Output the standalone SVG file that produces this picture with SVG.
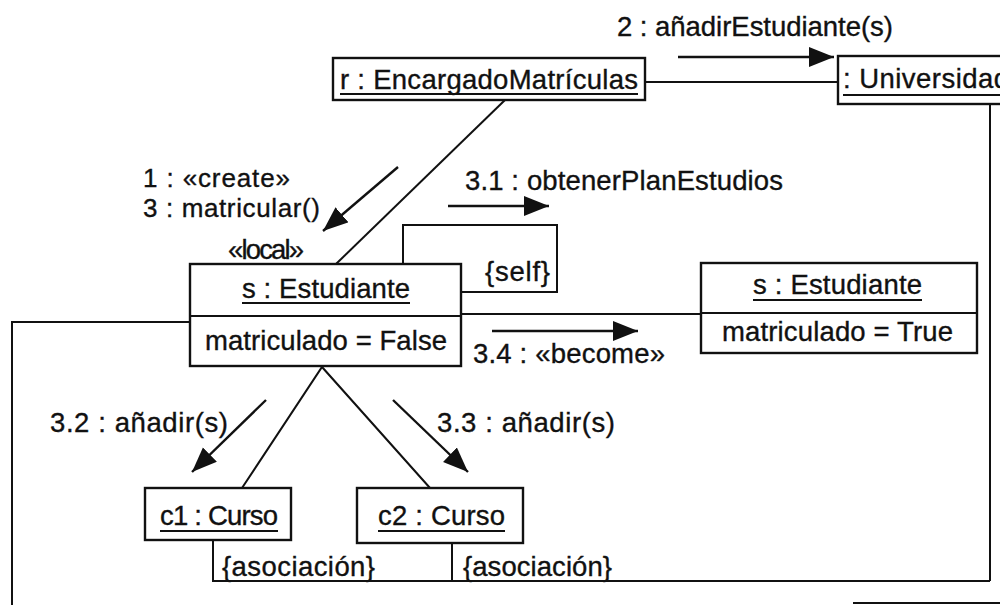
<svg xmlns="http://www.w3.org/2000/svg" width="1000" height="605" viewBox="0 0 1000 605">
  <style>
    text { font-family: "Liberation Sans", Arial, Helvetica, sans-serif; font-size: 27.5px; fill: #111; stroke: #111; stroke-width: 0.35; }
    text.tight { font-size: 26px; }
    .box { fill: #fff; stroke: #111; stroke-width: 2.4; }
    .ln { fill: none; stroke: #111; stroke-width: 2; }
    .ul { stroke: #111; stroke-width: 2; }
    .msg { fill: none; stroke: #111; stroke-width: 2.4; marker-end: url(#head); }
  </style>
  <defs>
    <marker id="head" markerUnits="userSpaceOnUse" markerWidth="28" markerHeight="22" refX="25" refY="10" orient="auto">
      <path d="M0,0 L25,10 L0,20 Z" fill="#111"/>
    </marker>
  </defs>
  <rect width="1000" height="605" fill="#fff"/>

  <!-- links and message arrows -->
  <g id="connectors">
    <line class="ln" x1="645" y1="82" x2="838" y2="82"/>
    <line class="ln" x1="505" y1="100" x2="336" y2="264"/>
    <polyline class="ln" points="403,264 403,225 557,225 557,292 461,292"/>
    <line class="ln" x1="461" y1="314" x2="701" y2="314"/>
    <polyline class="ln" points="190,322 12,322 12,605"/>
    <line class="ln" x1="990" y1="104" x2="990" y2="581"/>
    <polyline class="ln" points="213,540 213,581 990,581"/>
    <line class="ln" x1="452" y1="543" x2="452" y2="581"/>
    <polyline class="ln" points="242,488 322,367 430,488"/>
    <line class="ln" x1="853" y1="603" x2="1000" y2="603"/>

    <line class="msg" x1="678" y1="57" x2="834" y2="57"/>
    <line class="msg" x1="398" y1="167" x2="323" y2="231"/>
    <line class="msg" x1="448" y1="206" x2="549" y2="206"/>
    <line class="msg" x1="492" y1="331" x2="638" y2="331"/>
    <line class="msg" x1="266" y1="400" x2="192" y2="472"/>
    <line class="msg" x1="393" y1="400" x2="468" y2="472"/>
  </g>

  <!-- message labels -->
  <g id="labels">
    <text x="617" y="36" textLength="276">2 : añadirEstudiante(s)</text>
    <text class="tight" x="143" y="187" textLength="147">1 : «create»</text>
    <text class="tight" x="143" y="217" textLength="177">3 : matricular()</text>
    <text x="465" y="190" textLength="318">3.1 : obtenerPlanEstudios</text>
    <text x="228" y="259" textLength="76">«local»</text>
    <text x="485" y="281" textLength="65">{self}</text>
    <text x="473" y="363" textLength="192">3.4 : «become»</text>
    <text x="50" y="432" textLength="178">3.2 : añadir(s)</text>
    <text x="437" y="432" textLength="178">3.3 : añadir(s)</text>
    <text x="222" y="576" textLength="153">{asociación}</text>
    <text x="463" y="576" textLength="149">{asociación}</text>
  </g>

  <g id="encargado">
    <rect class="box" x="333" y="58" width="312" height="42"/>
    <text x="340" y="89" textLength="298">r : EncargadoMatrículas</text>
    <line class="ul" x1="340" y1="94" x2="638" y2="94"/>
  </g>

  <g id="universidad">
    <rect class="box" x="838" y="56" width="200" height="48"/>
    <text x="843" y="88" textLength="166">: Universidad</text>
    <line class="ul" x1="843" y1="95" x2="1000" y2="95"/>
  </g>

  <g id="estudiante-false">
    <rect class="box" x="190" y="264" width="271" height="102"/>
    <line class="ln" x1="190" y1="316" x2="461" y2="316"/>
    <text x="242" y="298" textLength="168">s : Estudiante</text>
    <line class="ul" x1="242" y1="303" x2="410" y2="303"/>
    <text x="205" y="350" textLength="242">matriculado = False</text>
  </g>

  <g id="estudiante-true">
    <rect class="box" x="701" y="263" width="276" height="90"/>
    <line class="ln" x1="701" y1="313" x2="977" y2="313"/>
    <text x="753" y="294" textLength="169">s : Estudiante</text>
    <line class="ul" x1="753" y1="300" x2="922" y2="300"/>
    <text x="722" y="341" textLength="231">matriculado = True</text>
  </g>

  <g id="curso-c1">
    <rect class="box" x="145" y="488" width="146" height="52"/>
    <text x="160" y="525" textLength="118">c1 : Curso</text>
    <line class="ul" x1="160" y1="531" x2="278" y2="531"/>
  </g>

  <g id="curso-c2">
    <rect class="box" x="357" y="488" width="166" height="55"/>
    <text x="378" y="525" textLength="127">c2 : Curso</text>
    <line class="ul" x1="378" y1="531" x2="505" y2="531"/>
  </g>
</svg>
